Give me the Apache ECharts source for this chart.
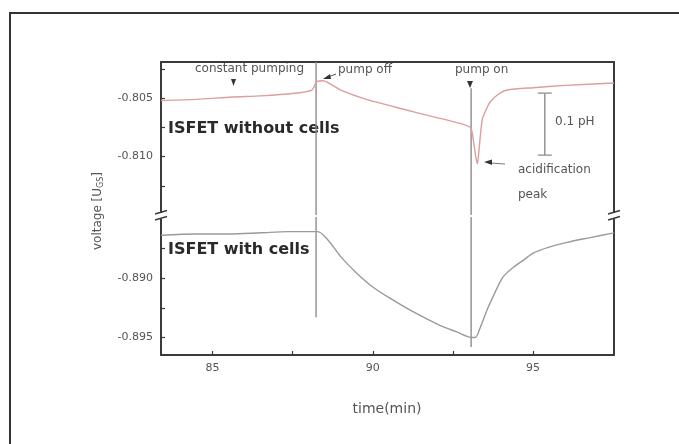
<!DOCTYPE html>
<html><head><meta charset="utf-8">
<script src="https://cdn.jsdelivr.net/npm/echarts@6/dist/echarts.min.js"></script>
<style>html,body{margin:0;padding:0;background:#fff}#c{width:679px;height:444px}</style>
</head><body><div id="c"></div>
<script>
// ---- data ----
const timeWithout = [83.39, 84.5, 85.6, 86.5, 87.5, 88.1, 88.25, 88.45, 89.0, 89.8, 90.9, 91.9, 92.5, 93.05, 93.15, 93.22, 93.27, 93.32, 93.42, 93.55, 93.67, 93.9, 94.2, 95.0, 96.0, 97.53];
const voltWithout = [-0.8052, -0.8051, -0.8049, -0.8048, -0.8046, -0.8043, -0.8036, -0.8035, -0.8043, -0.8051, -0.8059, -0.8066, -0.8070, -0.8075, -0.8088, -0.8101, -0.8106, -0.8093, -0.8068, -0.8059, -0.8053, -0.8047, -0.8043, -0.8041, -0.8039, -0.8037];
const timeWith = [83.39, 84.5, 85.5, 86.5, 87.35, 87.75, 88.28, 88.6, 89.0, 89.5, 90.02, 90.6, 91.17, 92.11, 92.6, 93.11, 93.2, 93.35, 93.58, 93.8, 93.98, 94.1, 94.39, 94.7, 95.01, 95.5, 96.07, 96.79, 97.53];
const voltWith = [-0.8864, -0.8863, -0.8863, -0.8862, -0.8861, -0.8861, -0.8861, -0.8868, -0.8882, -0.8896, -0.8908, -0.8918, -0.8927, -0.8940, -0.8945, -0.8950, -0.8950, -0.8942, -0.8926, -0.8913, -0.8903, -0.8898, -0.8891, -0.8885, -0.8879, -0.8874, -0.8870, -0.8866, -0.8862];
const pumpOffTime = 88.23;
const pumpOnTime = 93.07;
const pumpOffLowerEnd = -0.8933;
const pumpOnUpperStart = -0.80415;
const pumpOnLowerEnd = -0.8958;
const phBarTime = 95.37;
const phBarHalfWidth = 0.22;
const phBarTop = -0.80457;
const phBarBottom = -0.80987;
const xRange = [83.39, 97.53];
const upperRange = [-0.815, -0.8019];
const lowerRange = [-0.89647, -0.88487];
const xTickVals = [85, 87.5, 90, 92.5, 95];
const xLabelVals = [85, 90, 95];
const upperTickVals = [-0.8125, -0.810, -0.8075, -0.805, -0.8025];
const upperLabelVals = [-0.810, -0.805];
const lowerTickVals = [-0.895, -0.8925, -0.890, -0.8875];
const lowerLabelVals = [-0.895, -0.890];

// ---- chart ----
const FONT = 'DejaVu Sans';
const AX = '#3a3a3a';
const chart = echarts.init(document.getElementById('c'), null, {renderer: 'canvas'});
const zip = (a, b) => a.map((v, i) => [v, b[i]]);
const lineStyleAxis = {color: AX, width: 2};
const tickStyle = {show: true, inside: true, length: 4, lineStyle: {color: AX, width: 1.2}};
const labelStyle = {color: '#555', fontSize: 11, fontFamily: FONT};

const vseg = (x, y0, y1, xi, yi) => ({
  type: 'line', xAxisIndex: xi, yAxisIndex: yi, data: [[x, y0], [x, y1]],
  symbol: 'none', silent: true, animation: false,
  lineStyle: {color: '#8c8c8c', width: 1.4}, z: 1
});
const hseg = (x0, x1, y, xi, yi) => ({
  type: 'line', xAxisIndex: xi, yAxisIndex: yi, data: [[x0, y], [x1, y]],
  symbol: 'none', silent: true, animation: false,
  lineStyle: {color: '#8c8c8c', width: 1.2}, z: 1
});

const option = {
  backgroundColor: '#fff',
  animation: false,
  grid: [
    {left: 161, width: 453, top: 62, height: 153},
    {left: 161, width: 453, top: 217, height: 138}
  ],
  xAxis: [
    {gridIndex: 0, type: 'value', position: 'top', min: xRange[0], max: xRange[1],
     axisLine: {show: true, onZero: false, lineStyle: lineStyleAxis},
     axisTick: {show: false}, axisLabel: {show: false}, splitLine: {show: false}},
    {gridIndex: 1, type: 'value', position: 'bottom', min: xRange[0], max: xRange[1],
     axisLine: {show: true, onZero: false, lineStyle: lineStyleAxis},
     axisTick: Object.assign({customValues: xTickVals}, tickStyle),
     axisLabel: Object.assign({customValues: xLabelVals, margin: 8, formatter: v => String(v)}, labelStyle),
     splitLine: {show: false}}
  ],
  yAxis: [
    {gridIndex: 0, type: 'value', position: 'left', min: upperRange[0], max: upperRange[1],
     axisLine: {show: true, onZero: false, lineStyle: lineStyleAxis},
     axisTick: Object.assign({customValues: upperTickVals}, tickStyle),
     axisLabel: Object.assign({customValues: upperLabelVals, margin: 8, formatter: v => v.toFixed(3)}, labelStyle),
     splitLine: {show: false}},
    {gridIndex: 0, type: 'value', position: 'right', min: upperRange[0], max: upperRange[1],
     axisLine: {show: true, onZero: false, lineStyle: lineStyleAxis},
     axisTick: {show: false}, axisLabel: {show: false}, splitLine: {show: false}},
    {gridIndex: 1, type: 'value', position: 'left', min: lowerRange[0], max: lowerRange[1],
     axisLine: {show: true, onZero: false, lineStyle: lineStyleAxis},
     axisTick: Object.assign({customValues: lowerTickVals}, tickStyle),
     axisLabel: Object.assign({customValues: lowerLabelVals, margin: 8, formatter: v => v.toFixed(3)}, labelStyle),
     splitLine: {show: false}},
    {gridIndex: 1, type: 'value', position: 'right', min: lowerRange[0], max: lowerRange[1],
     axisLine: {show: true, onZero: false, lineStyle: lineStyleAxis},
     axisTick: {show: false}, axisLabel: {show: false}, splitLine: {show: false}}
  ],
  series: [
    vseg(pumpOffTime, upperRange[1], upperRange[0], 0, 0),
    vseg(pumpOffTime, lowerRange[1], pumpOffLowerEnd, 1, 2),
    vseg(pumpOnTime, pumpOnUpperStart, upperRange[0], 0, 0),
    vseg(pumpOnTime, lowerRange[1], pumpOnLowerEnd, 1, 2),
    vseg(phBarTime, phBarTop, phBarBottom, 0, 0),
    hseg(phBarTime - phBarHalfWidth, phBarTime + phBarHalfWidth, phBarTop, 0, 0),
    hseg(phBarTime - phBarHalfWidth, phBarTime + phBarHalfWidth, phBarBottom, 0, 0),
    {type: 'line', name: 'ISFET without cells', xAxisIndex: 0, yAxisIndex: 0,
     data: zip(timeWithout, voltWithout), symbol: 'none', smooth: 0.2,
     lineStyle: {color: '#dc9e9e', width: 1.4}, z: 3},
    {type: 'line', name: 'ISFET with cells', xAxisIndex: 1, yAxisIndex: 2,
     data: zip(timeWith, voltWith), symbol: 'none', smooth: 0.3,
     lineStyle: {color: '#9a9a9a', width: 1.4}, z: 3}
  ],
  graphic: [
    // outer frame
    {type: 'polyline', shape: {points: [[10, 444], [10, 13], [679, 13]]}, style: {stroke: '#333', lineWidth: 2, fill: null}, silent: true},
    // axis break marks
    {type: 'rect', shape: {x: 155, y: 213, width: 12, height: 6}, style: {fill: '#fff'}, z: 100},
    {type: 'line', shape: {x1: 155, y1: 214, x2: 167, y2: 210.5}, style: {stroke: AX, lineWidth: 1.4}, z: 101},
    {type: 'line', shape: {x1: 155, y1: 220, x2: 167, y2: 216.5}, style: {stroke: AX, lineWidth: 1.4}, z: 101},
    {type: 'rect', shape: {x: 608, y: 213, width: 12, height: 6}, style: {fill: '#fff'}, z: 100},
    {type: 'line', shape: {x1: 608, y1: 214, x2: 620, y2: 210.5}, style: {stroke: AX, lineWidth: 1.4}, z: 101},
    {type: 'line', shape: {x1: 608, y1: 220, x2: 620, y2: 216.5}, style: {stroke: AX, lineWidth: 1.4}, z: 101},
    // y axis name
    {type: 'text', x: 98, y: 211, rotation: Math.PI / 2,
     style: {text: 'voltage [U{sub|GS}]', fontFamily: FONT, fontSize: 12, fill: '#555', align: 'center', verticalAlign: 'middle',
             rich: {sub: {fontSize: 8, fontFamily: FONT, fill: '#555', verticalAlign: 'bottom', padding: [5, 0, 0, 0]}}}},
    // x axis name
    {type: 'text', x: 387, y: 409, style: {text: 'time(min)', fontFamily: FONT, fontSize: 14, fill: '#555', align: 'center', verticalAlign: 'middle'}},
    // bold labels
    {type: 'text', x: 168, y: 129, style: {text: 'ISFET without cells', fontFamily: FONT, fontWeight: 'bold', fontSize: 16, fill: '#2a2a2a', verticalAlign: 'middle'}},
    {type: 'text', x: 168, y: 250, style: {text: 'ISFET with cells', fontFamily: FONT, fontWeight: 'bold', fontSize: 16, fill: '#2a2a2a', verticalAlign: 'middle'}},
    // annotations
    {type: 'text', x: 195, y: 69, style: {text: 'constant pumping', fontFamily: FONT, fontSize: 12, fill: '#555', verticalAlign: 'middle'}},
    {type: 'text', x: 338, y: 70, style: {text: 'pump off', fontFamily: FONT, fontSize: 12, fill: '#555', verticalAlign: 'middle'}},
    {type: 'text', x: 455, y: 70, style: {text: 'pump on', fontFamily: FONT, fontSize: 12, fill: '#555', verticalAlign: 'middle'}},
    {type: 'text', x: 555, y: 122, style: {text: '0.1 pH', fontFamily: FONT, fontSize: 12, fill: '#555', verticalAlign: 'middle'}},
    {type: 'text', x: 518, y: 170, style: {text: 'acidification', fontFamily: FONT, fontSize: 12, fill: '#555', verticalAlign: 'middle'}},
    {type: 'text', x: 518, y: 195, style: {text: 'peak', fontFamily: FONT, fontSize: 12, fill: '#555', verticalAlign: 'middle'}},
    // arrows
    {type: 'polygon', shape: {points: [[231, 79], [236, 79], [233.5, 86]]}, style: {fill: '#333'}},
    {type: 'line', shape: {x1: 336, y1: 74, x2: 328, y2: 77}, style: {stroke: '#555', lineWidth: 1}},
    {type: 'polygon', shape: {points: [[323, 79], [330, 74], [331, 79]]}, style: {fill: '#333'}},
    {type: 'polygon', shape: {points: [[467, 81], [473, 81], [470, 88]]}, style: {fill: '#333'}},
    {type: 'line', shape: {x1: 505, y1: 164, x2: 490, y2: 163}, style: {stroke: '#777', lineWidth: 1}},
    {type: 'polygon', shape: {points: [[484, 162], [492, 159.5], [492, 165]]}, style: {fill: '#333'}}
  ]
};
chart.setOption(option);
</script>
</body></html>
